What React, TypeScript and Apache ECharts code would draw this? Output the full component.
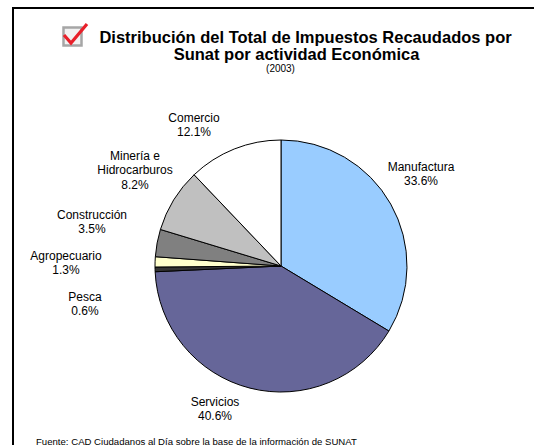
import React, { useEffect, useRef } from "react";
import * as echarts from "echarts";

const categories = [
  "Manufactura",
  "Servicios",
  "Pesca",
  "Agropecuario",
  "Construcción",
  "Minería e\nHidrocarburos",
  "Comercio",
];
const values = [33.6, 40.6, 0.6, 1.3, 3.5, 8.2, 12.1];
const sliceColors = ["#99CCFF", "#666699", "#333333", "#FFFFCC", "#808080", "#C0C0C0", "#FFFFFF"];
// label centre positions (px)
const labelPos: [number, number][] = [
  [421, 174],
  [215, 409],
  [85, 304],
  [66, 263],
  [92, 222],
  [135, 170],
  [194, 125],
];

const titleLine1 = "Distribución del Total de Impuestos Recaudados por";
const titleLine2 = "Sunat por actividad Económica";
const subtitle = "(2003)";
const footer = "Fuente: CAD Ciudadanos al Día sobre la base de la información de SUNAT";

const FONT = "'Liberation Sans', Arial, sans-serif";

export default function App() {
  const ref = useRef<HTMLDivElement>(null);
  useEffect(() => {
    document.body.style.margin = "0";
    const chart = echarts.init(ref.current!, null, { renderer: "svg" });
    chart.setOption({
      animation: false,
      backgroundColor: "#FFFFFF",
      graphic: [
        {
          type: "rect",
          shape: { x: 13, y: 8, width: 600, height: 500 },
          style: { fill: "none", stroke: "#000", lineWidth: 2 },
          silent: true,
        },
        {
          type: "rect",
          shape: { x: 63.5, y: 27.5, width: 18, height: 18 },
          style: { fill: "#F2F2F2", stroke: "#A6A6A6", lineWidth: 2.5 },
        },
        {
          type: "polyline",
          shape: { points: [[64, 35], [71, 43], [87, 24]] },
          style: { stroke: "#E8202A", lineWidth: 3.2, fill: "none", lineJoin: "miter" },
        },
        {
          type: "text",
          x: 305.5,
          y: 37,
          style: { text: titleLine1, font: `bold 16.5px ${FONT}`, fill: "#000", align: "center", verticalAlign: "middle" },
        },
        {
          type: "text",
          x: 296.5,
          y: 54,
          style: { text: titleLine2, font: `bold 16.5px ${FONT}`, fill: "#000", align: "center", verticalAlign: "middle" },
        },
        {
          type: "text",
          x: 280.5,
          y: 68,
          style: { text: subtitle, font: `10px ${FONT}`, fill: "#000", align: "center", verticalAlign: "middle" },
        },
        {
          type: "text",
          x: 36,
          y: 441,
          style: { text: footer, font: `9.6px ${FONT}`, fill: "#000", align: "left", verticalAlign: "middle" },
        },
      ],
      series: [
        {
          type: "pie",
          center: [281, 266],
          radius: 126,
          startAngle: 90,
          clockwise: true,
          silent: true,
          data: values.map((v, i) => ({
            name: categories[i],
            value: v,
            itemStyle: { color: sliceColors[i] },
          })),
          itemStyle: { borderColor: "#000", borderWidth: 1 },
          label: {
            show: true,
            formatter: (p: any) => `${p.name}\n${p.value.toFixed(1)}%`,
            fontFamily: FONT,
            fontSize: 12,
            lineHeight: 14.5,
            color: "#000",
            align: "center",
          },
          labelLine: { show: false },
          labelLayout: (p: any) => ({
            x: labelPos[p.dataIndex][0],
            y: labelPos[p.dataIndex][1],
            align: "center",
            verticalAlign: "middle",
          }),
        },
      ],
    });
    return () => chart.dispose();
  }, []);
  return <div ref={ref} style={{ position: "absolute", left: 0, top: 0, width: 534, height: 445 }} />;
}
